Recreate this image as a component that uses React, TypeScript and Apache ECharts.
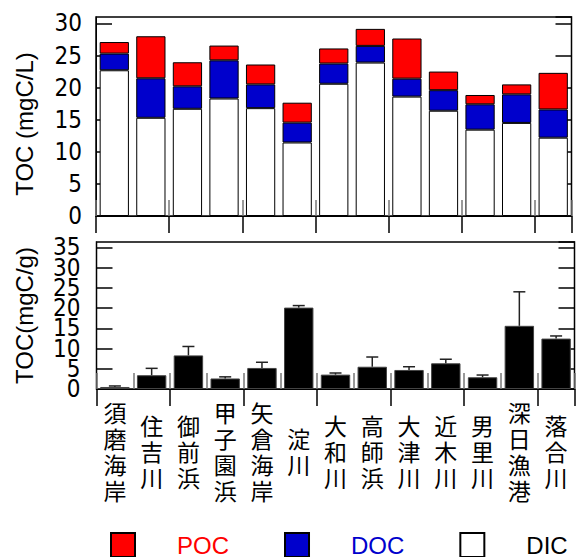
import React, { useEffect, useRef } from "react";
import * as echarts from "echarts";

const categories = ["須磨海岸", "住吉川", "御前浜", "甲子園浜", "矢倉海岸", "淀川", "大和川", "高師浜", "大津川", "近木川", "男里川", "深日漁港", "落合川"];
const dic = [22.7, 15.3, 16.7, 18.3, 16.8, 11.45, 20.6, 23.9, 18.6, 16.4, 13.45, 14.5, 12.2];
const doc = [2.6, 6.15, 3.5, 5.95, 3.7, 3.1, 3.15, 2.6, 2.8, 3.2, 3.95, 4.45, 4.4];
const poc = [1.8, 6.55, 3.75, 2.3, 3.1, 3.1, 2.35, 2.65, 6.25, 2.9, 1.45, 1.55, 5.7];
const sediment = [0.5, 3.4, 8.3, 2.6, 5.2, 20.1, 3.55, 5.5, 4.7, 6.35, 2.9, 15.6, 12.45];
const sedimentErrTop = [0.75, 5.1, 10.5, 3.0, 6.6, 20.6, 3.95, 7.9, 5.5, 7.35, 3.45, 24.0, 13.1];

const numFont = "'Liberation Sans Narrow', 'DejaVu Sans Condensed', 'Liberation Sans', sans-serif";
const latinFont = "'Liberation Sans', Arial, sans-serif";
const cjkFont = "'Noto Sans CJK JP', 'Noto Sans CJK SC', sans-serif";

export default function App() {
  const ref = useRef<HTMLDivElement>(null);
  useEffect(() => {
    if (!ref.current) return;
    const chart = echarts.init(ref.current, null, { renderer: "svg" });
    const catAxisCommon = (gridIndex: number, position: string, showLabel: boolean, tickColor: string, tickLen: number) => ({
      type: "category",
      gridIndex,
      position,
      data: categories,
      boundaryGap: true,
      axisLine: { show: true, lineStyle: { color: "#000", width: 1 } },
      axisTick: { show: true, inside: true, length: tickLen, lineStyle: { color: tickColor, width: 1.5 } },
      axisLabel: showLabel
        ? {
            show: true,
            interval: 0,
            fontFamily: cjkFont,
            fontSize: 23,
            lineHeight: 26,
            color: "#000",
            verticalAlign: "middle",
            margin: 62,
            formatter: (v: string) => v.split("").join("\n"),
          }
        : { show: false },
    });
    const valAxis = (
      gridIndex: number,
      position: string,
      max: number,
      showLabel: boolean,
      name: string,
      margin: number,
      namePadding: number[],
      lineHeight: number,
      showMin: boolean,
      filter: (v: number) => boolean,
      showTicks: boolean
    ) => ({
      type: "value",
      gridIndex,
      position,
      min: 0,
      max,
      interval: 5,
      name,
      nameLocation: "middle",
      nameRotate: 90,
      nameGap: 60,
      nameTextStyle: { fontFamily: latinFont, fontSize: 24, color: "#000", padding: namePadding },
      splitLine: { show: false },
      axisLine: { show: showTicks, lineStyle: { color: "#000", width: 1 } },
      axisTick: { show: showTicks, inside: true, length: 16, lineStyle: { color: "#000", width: 1.5 } },
      axisLabel: showLabel
        ? {
            show: true,
            showMaxLabel: false,
            showMinLabel: showMin,
            hideOverlap: false,
            fontFamily: numFont,
            fontSize: 24,
            lineHeight,
            color: "#000",
            margin,
            formatter: (v: number) => (v % 5 === 0 && filter(v) ? String(v) : ""),
          }
        : { show: false },
    });

    const all = () => true;
    const barStyleCommon = { borderColor: "#000", borderWidth: 1 };

    chart.setOption({
      animation: false,
      backgroundColor: "#fff",
      grid: [
        { left: 96, top: 17, width: 475.5, height: 199, show: true, borderColor: "#000", borderWidth: 1.5, backgroundColor: "transparent" },
        { left: 96.5, top: 242, width: 478, height: 147, show: true, borderColor: "#000", borderWidth: 1.5, backgroundColor: "transparent" },
      ],
      legend: {
        left: 105,
        top: 527,
        itemWidth: 24,
        itemHeight: 24,
        itemGap: 55,
        icon: "rect",
        itemStyle: { borderColor: "#000", borderWidth: 2 },
        textStyle: { fontFamily: latinFont, fontSize: 24, lineHeight: 24, padding: [0, 0, 0, 37] },
        data: [
          { name: "POC", textStyle: { color: "#ff0000" } },
          { name: "DOC", textStyle: { color: "#0000cc" } },
          { name: "DIC", textStyle: { color: "#000000" } },
        ],
        selectedMode: false,
      },
      xAxis: [
        catAxisCommon(0, "bottom", false, "#777", 16),
        catAxisCommon(0, "top", false, "#000", 17),
        catAxisCommon(1, "bottom", true, "#777", 16),
        catAxisCommon(1, "top", false, "#000", 17),
      ],
      yAxis: [
        valAxis(0, "left", 31, true, "TOC (mgC/L)", 14, [0, 15, 0, 0], 24, true, all, true),
        valAxis(0, "right", 31, false, "", 8, [0, 0, 0, 0], 24, true, all, true),
        valAxis(1, "left", 36.3, true, "TOC(mgC/g)", 16, [0, 0, 0, 0], 16, false, (v) => v > 0, true),
        valAxis(1, "right", 36.3, false, "", 8, [0, 0, 0, 0], 16, true, all, true),
        valAxis(1, "left", 36.3, true, "", 16, [0, 0, 0, 0], 16, true, (v) => v === 0, false),
      ],
      series: [
        {
          name: "DIC",
          type: "bar",
          stack: "toc",
          xAxisIndex: 0,
          yAxisIndex: 0,
          barWidth: "80%",
          data: dic,
          itemStyle: { color: "#ffffff", ...barStyleCommon },
        },
        {
          name: "DOC",
          type: "bar",
          stack: "toc",
          xAxisIndex: 0,
          yAxisIndex: 0,
          barWidth: "80%",
          data: doc,
          itemStyle: { color: "#0000cc", ...barStyleCommon },
        },
        {
          name: "POC",
          type: "bar",
          stack: "toc",
          xAxisIndex: 0,
          yAxisIndex: 0,
          barWidth: "80%",
          data: poc,
          itemStyle: { color: "#ff0000", ...barStyleCommon },
        },
        {
          name: "sediment",
          type: "bar",
          xAxisIndex: 2,
          yAxisIndex: 2,
          barWidth: "80%",
          data: sediment,
          itemStyle: { color: "#000000", borderColor: "#444", borderWidth: 1 },
        },
        {
          name: "error",
          type: "custom",
          xAxisIndex: 2,
          yAxisIndex: 2,
          z: 5,
          data: categories.map((c, i) => [i, sediment[i], sedimentErrTop[i]]),
          renderItem: (params: any, api: any) => {
            const idx = api.value(0);
            const p0 = api.coord([idx, api.value(1)]);
            const p1 = api.coord([idx, api.value(2)]);
            const style = { stroke: "#222", lineWidth: 1.5 };
            return {
              type: "group",
              children: [
                { type: "line", shape: { x1: p0[0], y1: p0[1], x2: p1[0], y2: p1[1] }, style },
                { type: "line", shape: { x1: p1[0] - 6, y1: p1[1], x2: p1[0] + 6, y2: p1[1] }, style },
              ],
            };
          },
        },
      ],
    });
    return () => chart.dispose();
  }, []);
  return <div ref={ref} style={{ position: "fixed", left: 0, top: 0, width: 582, height: 557 }} />;
}
